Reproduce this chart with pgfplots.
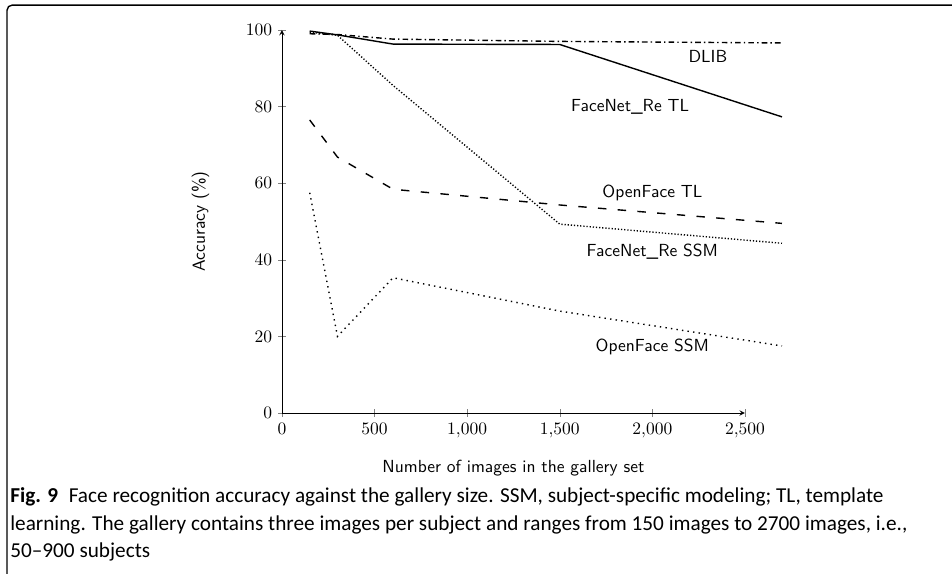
\documentclass[border=0pt]{standalone}
\usepackage{pgfplots}
\pgfplotsset{compat=1.18}
\usepackage{fontspec}
\newfontfamily\capfont{Carlito}
\newcommand\capone{\textbf{Fig. 9}\enspace Face recognition accuracy against the gallery size. SSM, subject-specific modeling; TL, template}
\newlength\capw

\begin{document}
\settowidth\capw{\capfont\capone}%
\pgfmathsetmacro\capscale{499/\capw}%
\begin{tikzpicture}
% page extent, frame and caption (origin = data point (0,0))
\path (-161.1pt,-92pt) rectangle (382.9pt,236pt);
\draw[overlay,line width=0.8pt,rounded corners=3pt] (-157.1pt,-95pt) -- (-157.1pt,233.1pt) -- (385pt,233.1pt);
\begin{axis}[
  at={(0pt,0pt)}, anchor=origin,
  x=0.10584pt, y=2.189pt,
  xmin=0, xmax=2500, ymin=0, ymax=100,
  axis lines=left, clip=false,
  tick align=center,
  xtick={0,500,1000,1500,2000,2500},
  ytick={0,20,40,60,80,100},
  xlabel={Number of images in the gallery set},
  ylabel={Accuracy (\%)},
  xlabel shift=6pt, ylabel shift=14pt,
  label style={font=\sffamily},
  every axis plot/.append style={thick, black},
]
\addplot[dash pattern=on 3.2pt off 1.8pt on 0.8pt off 1.8pt] coordinates {(150,99.0)(300,98.8)(600,97.6)(1500,97.0)(2700,96.6)};
\addplot[solid] coordinates {(150,99.7)(300,98.7)(600,96.3)(1500,96.2)(2700,77.3)};
\addplot[dash pattern=on 0.7pt off 1.1pt] coordinates {(150,99.4)(300,98.6)(600,85.5)(1500,49.3)(2700,44.3)};
\addplot[dash pattern=on 4.8pt off 6.5pt] coordinates {(150,76.5)(300,66.8)(600,58.4)(1500,54.3)(2700,49.5)};
\addplot[dash pattern=on 0.8pt off 2.4pt] coordinates {(150,57.5)(300,20.0)(600,35.3)(1500,26.6)(2700,17.5)};
\node[font=\sffamily] at (axis cs:2300,93) {DLIB};
\node[font=\sffamily] at (axis cs:1880,80) {FaceNet\_Re TL};
\node[font=\sffamily] at (axis cs:2000,57.4) {OpenFace TL};
\node[font=\sffamily] at (axis cs:2000,42) {FaceNet\_Re SSM};
\node[font=\sffamily] at (axis cs:2000,17.2) {OpenFace SSM};
\end{axis}
\begin{scope}[every node/.style={anchor=base west, inner sep=0pt, font=\capfont}]
\node at (-155.4pt,-51.4pt) {\scalebox{\capscale}{\capone}};
\node at (-155.4pt,-66.9pt) {\scalebox{\capscale}{learning. The gallery contains three images per subject and ranges from 150 images to 2700 images, i.e.,}};
\node at (-155.4pt,-82.3pt) {\scalebox{\capscale}{50–900 subjects}};
\end{scope}
\end{tikzpicture}
\end{document}
